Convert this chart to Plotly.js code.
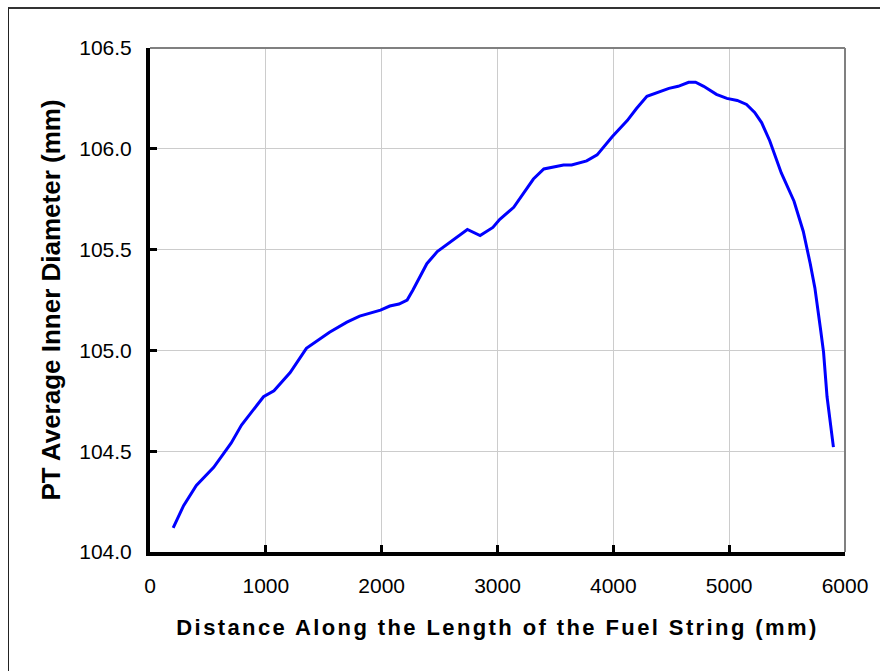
<!DOCTYPE html>
<html>
<head>
<meta charset="utf-8">
<script src="https://cdn.plot.ly/plotly-3.0.1.min.js"></script>
<style>
  html, body { margin: 0; padding: 0; background: #fff; }
  #wrap { position: relative; width: 880px; height: 671px; overflow: hidden; }
  #chart { position: absolute; left: 0; top: 0; width: 880px; height: 671px; }
  #frame { position: absolute; left: 8px; top: 7px; width: 900px; height: 700px;
           border-left: 1px solid #222; border-top: 2px solid #333; pointer-events: none; }
</style>
</head>
<body>
<div id="wrap">
  <div id="chart"></div>
  <div id="frame"></div>
</div>
<script>
// Pressure tube average inner diameter along the fuel string
const distanceMm = [200, 290, 400, 550, 700, 790, 980, 1070, 1210, 1350, 1550, 1700, 1810, 1990,
  2070, 2150, 2220, 2270, 2390, 2480, 2740, 2850, 2960, 3020, 3140, 3250, 3310, 3400, 3570, 3640,
  3770, 3860, 3990, 4120, 4200, 4290, 4380, 4480, 4560, 4650, 4710, 4780, 4890, 4980, 5070, 5150,
  5220, 5280, 5350, 5450, 5560, 5640, 5700, 5740, 5790, 5815, 5845, 5900];
const innerDiameterMm = [104.12, 104.23, 104.33, 104.42, 104.54, 104.63, 104.77, 104.80, 104.89,
  105.01, 105.09, 105.14, 105.17, 105.20, 105.22, 105.23, 105.25, 105.30, 105.43, 105.49, 105.60,
  105.57, 105.61, 105.65, 105.71, 105.80, 105.85, 105.90, 105.92, 105.92, 105.94, 105.97, 106.06,
  106.14, 106.20, 106.26, 106.28, 106.30, 106.31, 106.33, 106.33, 106.31, 106.27, 106.25, 106.24,
  106.22, 106.18, 106.13, 106.04, 105.88, 105.74, 105.59, 105.43, 105.31, 105.10, 104.99, 104.77,
  104.52];

const xTicks = [0, 1000, 2000, 3000, 4000, 5000, 6000];
const yTicks = [104.0, 104.5, 105.0, 105.5, 106.0, 106.5];

const xTitle = 'Distance Along the Length of the Fuel String (mm)';
const yTitle = 'PT Average Inner Diameter (mm)';

const font = 'Liberation Sans, Arial, sans-serif';

const trace = {
  x: distanceMm,
  y: innerDiameterMm,
  type: 'scatter',
  mode: 'lines',
  line: { color: '#0000ff', width: 3 },
  hoverinfo: 'x+y'
};

// heavy black axis lines with short inward ticks, light grey grid
const axisCommon = {
  ticks: 'inside',
  ticklen: 7,
  tickwidth: 3,
  tickcolor: '#000',
  showline: true,
  linecolor: '#000',
  linewidth: 4,
  showgrid: true,
  gridcolor: '#cccccc',
  gridwidth: 1,
  zeroline: false,
  tickfont: { family: font, size: 21, color: '#000' }
};

const layout = {
  width: 880,
  height: 671,
  margin: { l: 150, r: 35, t: 48, b: 119, pad: 0 },
  paper_bgcolor: 'rgba(0,0,0,0)',
  plot_bgcolor: '#ffffff',
  showlegend: false,
  font: { family: font, color: '#000', size: 20 },
  xaxis: Object.assign({}, axisCommon, {
    range: [0, 6000],
    tickvals: xTicks,
    ticktext: xTicks.map(String),
    ticklabelstandoff: 12,
    title: {
      text: '<span style="letter-spacing:2.4px">' + xTitle + '</span>',
      font: { family: font, size: 22, color: '#000', weight: 'bold' },
      standoff: 24
    }
  }),
  yaxis: Object.assign({}, axisCommon, {
    range: [104.0, 106.5],
    tickvals: yTicks,
    ticktext: yTicks.map(v => v.toFixed(1)),
    ticklabelstandoff: 10
  }),
  annotations: [
    // vertical axis title
    { text: yTitle, textangle: -90, showarrow: false,
      xref: 'paper', yref: 'paper', x: -0.143, y: 0.5,
      xanchor: 'center', yanchor: 'middle',
      font: { family: font, size: 26, color: '#000', weight: 'bold' } }
  ],
  shapes: [
    // grey frame on the top and right sides of the plotting area
    { type: 'line', xref: 'paper', yref: 'paper', x0: 0, x1: 1, y0: 1, y1: 1,
      line: { color: '#808080', width: 2 }, layer: 'above' },
    { type: 'line', xref: 'paper', yref: 'paper', x0: 1, x1: 1, y0: 0, y1: 1,
      line: { color: '#808080', width: 2 }, layer: 'above' }
  ]
};

Plotly.newPlot('chart', [trace], layout, { staticPlot: true, displayModeBar: false });
</script>
</body>
</html>
